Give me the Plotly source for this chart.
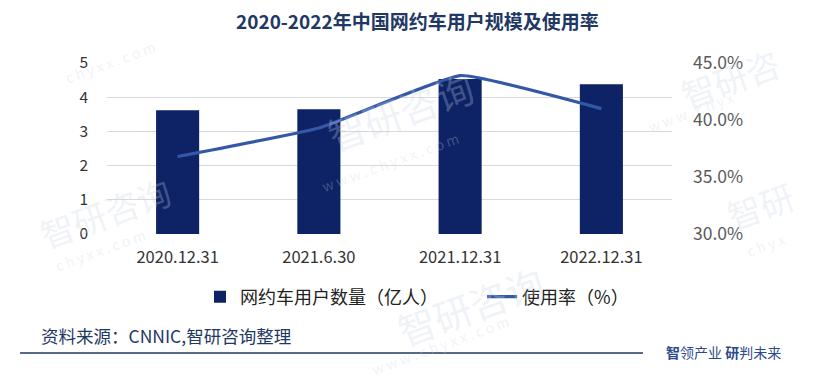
import plotly.graph_objects as go

categories = ["2020.12.31", "2021.6.30", "2021.12.31", "2022.12.31"]
users = [3.62, 3.65, 4.53, 4.38]          # 网约车用户数量（亿人）
usage_rate = [36.8, 39.3, 43.9, 41.0]      # 使用率（%）
left_ticks = [0, 1, 2, 3, 4, 5]
right_ticks = [30, 35, 40, 45]
right_tick_labels = ["30.0%", "35.0%", "40.0%", "45.0%"]
bar_name = "网约车用户数量（亿人）"
line_name = "使用率（%）"

# page body has an 8px margin -> compensate
OFF = 8
W, H = 819 - OFF, 386 - OFF
L, T = 107 - OFF, 63 - OFF
PR, PB = 672 - OFF, 234 - OFF
R, B = W - PR, H - PB
pw, ph = PR - L, PB - T

FONT = "Noto Sans CJK SC"
NAVY = "#0D2366"
LINE = "#3558A6"
TITLE_C = "#1F3864"


def pa(x, y):
    """reference-image pixel -> paper coords"""
    x -= OFF
    y -= OFF
    return (x - L) / pw, (PB - y) / ph


fig = go.Figure()
fig.add_trace(go.Bar(
    x=categories, y=users, name=bar_name + "\u3000\u3000\u00a0\u00a0\u00a0",
    marker=dict(color=NAVY, line=dict(width=0)), width=0.305,
))
fig.add_trace(go.Scatter(
    x=categories, y=usage_rate, name=line_name, yaxis="y2",
    mode="lines", line=dict(color=LINE, width=3.2, shape="spline", smoothing=0.35),
))

wm = dict(color="rgba(200,210,228,0.28)", family=FONT)
marks = [
    ("c h y x x . c o m", 110, 62, 14),
    ("智研咨询", 400, 110, 38), ("w w w . c h y x x . c o m", 390, 162, 14),
    ("智研咨", 730, 78, 34), ("w w w . c h y x", 690, 112, 14),
    ("智研咨询", 105, 212, 34), ("c h y x x . c o m", 100, 250, 14),
    ("智研咨询", 470, 305, 38), ("w w w . c h y x x . c o m", 440, 345, 14),
    ("智研", 760, 205, 34), ("c h y x", 765, 245, 14),
]
annotations = []
for txt, x, y, s in marks:
    ax, ay = pa(x, y)
    annotations.append(dict(text=txt, x=ax, y=ay, xref="paper", yref="paper",
                            xanchor="center", yanchor="middle",
                            showarrow=False, textangle=-20, font=dict(size=s, **wm)))

tx, ty = pa(417, 21)
annotations.append(dict(text="<b>2020-2022年中国网约车用户规模及使用率</b>", x=tx, y=ty,
                        xref="paper", yref="paper", xanchor="center", yanchor="middle",
                        showarrow=False, font=dict(size=19, color=TITLE_C, family=FONT)))
sx, sy = pa(39, 335)
annotations.append(dict(text="资料来源：CNNIC,智研咨询整理", x=sx, y=sy, xref="paper", yref="paper",
                        xanchor="left", yanchor="middle", showarrow=False,
                        font=dict(size=17.5, color=TITLE_C, family=FONT)))
bx, by = pa(664, 352)
annotations.append(dict(text="<b>智</b>领产业 <b>研</b>判未来", x=bx, y=by, xref="paper", yref="paper",
                        xanchor="left", yanchor="middle", showarrow=False,
                        font=dict(size=14, color="#2E4A8C", family=FONT)))

x0, y0 = pa(20, 353)
x1, _ = pa(643, 353)
shapes = [dict(type="line", xref="paper", yref="paper", x0=x0, x1=x1, y0=y0, y1=y0,
               line=dict(color=TITLE_C, width=1.5))]

lx, ly = pa(417, 297)
fig.update_layout(
    width=W, height=H, margin=dict(l=L, r=R, t=T, b=B, autoexpand=False),
    paper_bgcolor="white", plot_bgcolor="white",
    font=dict(family=FONT, color="#333333"),
    showlegend=True,
    legend=dict(orientation="h", x=lx, y=ly, xanchor="center", yanchor="middle",
                font=dict(size=18, color="#222222", family=FONT), itemwidth=30,
                traceorder="normal"),
    xaxis=dict(type="category", showgrid=False, showline=False, ticks="",
               tickfont=dict(size=16.5, color="#333333"), range=[-0.5, 3.5],
               ticklabelstandoff=11),
    yaxis=dict(range=[0, 5], tickvals=left_ticks, showgrid=True, gridcolor="#D9D9D9",
               gridwidth=1, zeroline=False, showline=False,
               tickfont=dict(size=15.5, color="#333333"), ticklabelstandoff=18),
    yaxis2=dict(range=[30, 45], tickvals=right_ticks, ticktext=right_tick_labels,
                overlaying="y", side="right", showgrid=False, zeroline=False,
                tickfont=dict(size=17.5, color="#595959"), ticklabelstandoff=20),
    annotations=annotations, shapes=shapes, bargap=0.7,
)
fig.write_html("out.html")
